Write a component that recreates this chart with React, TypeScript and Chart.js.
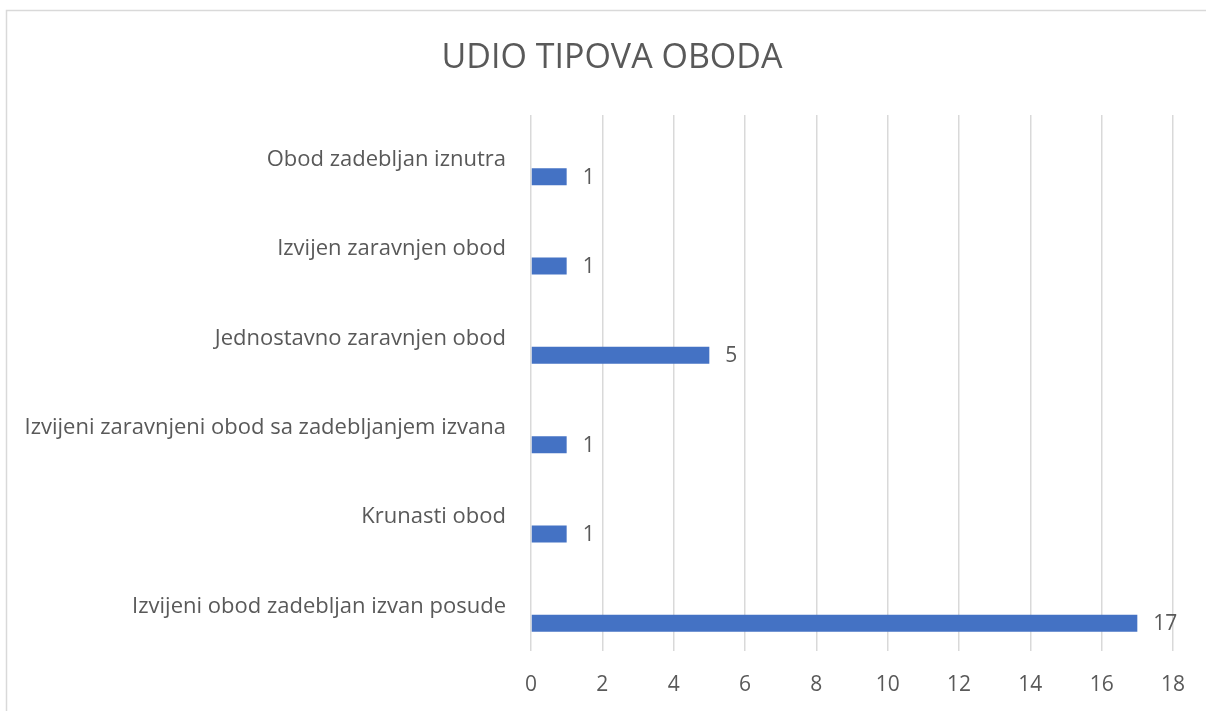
import React, { useEffect, useRef } from "react";
import { Chart, registerables } from "chart.js";

Chart.register(...registerables);

const TITLE = "UDIO TIPOVA OBODA";
const categories = [
  "Obod zadebljan iznutra",
  "Izvijen zaravnjen obod",
  "Jednostavno zaravnjen obod",
  "Izvijeni zaravnjeni obod sa zadebljanjem izvana",
  "Krunasti obod",
  "Izvijeni obod zadebljan izvan posude",
];
const values = [1, 1, 5, 1, 1, 17];
const placeholder = [null, null, null, null, null, null];
const xMin = 0;
const xMax = 18;
const xStep = 2;

const FONT = "'Open Sans', 'DejaVu Sans', sans-serif";
const TEXT = "#595959";

const framePlugin = {
  id: "frame",
  beforeDraw(chart: any) {
    const ctx = chart.ctx;
    ctx.save();
    ctx.fillStyle = "#ffffff";
    ctx.fillRect(0, 0, chart.width, chart.height);
    ctx.strokeStyle = "#d9d9d9";
    ctx.lineWidth = 1.5;
    ctx.beginPath();
    ctx.moveTo(6.5, chart.height);
    ctx.lineTo(6.5, 10.5);
    ctx.lineTo(chart.width, 10.5);
    ctx.stroke();
    ctx.restore();
  },
};

const titlePlugin = {
  id: "centeredTitle",
  afterDraw(chart: any) {
    const ctx = chart.ctx;
    ctx.save();
    ctx.fillStyle = TEXT;
    ctx.font = `34px ${FONT}`;
    ctx.textAlign = "center";
    ctx.textBaseline = "middle";
    ctx.fillText(TITLE, 612, 58);
    ctx.restore();
  },
};

const valueLabelPlugin = {
  id: "valueLabels",
  afterDatasetsDraw(chart: any) {
    const ctx = chart.ctx;
    const meta = chart.getDatasetMeta(1);
    const data = chart.data.datasets[1].data;
    ctx.save();
    ctx.fillStyle = TEXT;
    ctx.font = `21px ${FONT}`;
    ctx.textAlign = "left";
    ctx.textBaseline = "middle";
    meta.data.forEach((bar: any, i: number) => {
      ctx.fillText(String(data[i]), bar.x + 16, bar.y + 1);
    });
    ctx.restore();
  },
};

export default function App() {
  const ref = useRef<HTMLCanvasElement | null>(null);
  useEffect(() => {
    document.body.style.margin = "0";
    if (!ref.current) return;
    const chart = new Chart(ref.current, {
      type: "bar",
      data: {
        labels: categories,
        datasets: [
          {
            label: "",
            data: placeholder as any,
            backgroundColor: "#ffffff",
          },
          {
            label: "Broj",
            data: values,
            backgroundColor: "#4472C4",
            borderWidth: 0,
          },
        ],
      },
      options: {
        indexAxis: "y",
        responsive: false,
        animation: false,
        devicePixelRatio: 1,
        categoryPercentage: 0.761,
        barPercentage: 0.5,
        layout: { padding: { left: 12, right: 33, top: 115, bottom: 8 } },
        plugins: {
          legend: { display: false },
          tooltip: { enabled: false },
          title: { display: false },
        },
        scales: {
          x: {
            type: "linear",
            min: xMin,
            max: xMax,
            ticks: {
              stepSize: xStep,
              color: TEXT,
              font: { family: FONT, size: 21 },
              padding: 21,
            },
            grid: { color: "#d9d9d9", lineWidth: 1.5, drawTicks: false },
            border: { display: false },
            afterFit(scale: any) {
              scale.height = 711 - 8 - 651;
            },
          },
          y: {
            type: "category",
            ticks: {
              color: TEXT,
              font: { family: FONT, size: 22 },
              padding: 25,
              autoSkip: false,
            },
            grid: { display: false, drawTicks: false },
            border: { display: false },
            afterFit(scale: any) {
              scale.width = 531 - 12;
            },
          },
        },
      },
      plugins: [framePlugin, titlePlugin, valueLabelPlugin],
    });
    return () => chart.destroy();
  }, []);
  return (
    <div style={{ width: 1206, height: 711 }}>
      <canvas ref={ref} width={1206} height={711} style={{ display: "block" }} />
    </div>
  );
}
